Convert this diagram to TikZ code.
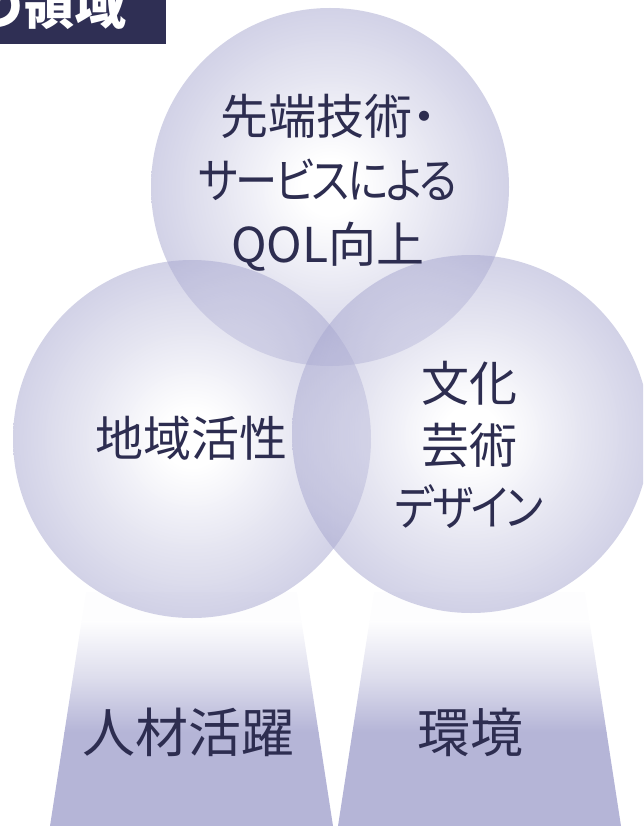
\documentclass[tikz,border=0pt]{standalone}
\usepackage{fontspec}
\setmainfont{Noto Sans CJK JP}[RawFeature=+palt]
\newfontfamily\kanafont{Noto Sans CJK JP}[RawFeature=+palt, FakeStretch=0.88, LetterSpace=-4.5]
\definecolor{ink}{RGB}{45,45,80}
\definecolor{hdr}{RGB}{47,47,84}
\definecolor{lavC}{RGB}{168,168,208}
\definecolor{lavT}{RGB}{181,181,215}
\pgfdeclareradialshading{ballshade}{\pgfpoint{0bp}{0bp}}{%
  color(0bp)=(white); color(4bp)=(white); color(14bp)=(lavC!50!white); color(25bp)=(lavC); color(50bp)=(lavC)}
\tikzset{
  ball/.style={shading=ballshade, fill opacity=0.52},
  lbl/.style={text=ink, align=center, inner sep=0pt, font=\fontsize{48}{64}\selectfont},
  biglbl/.style={text=ink, inner sep=0pt, font=\fontsize{53}{60}\selectfont},
}
\begin{document}
\begin{tikzpicture}[x=1pt,y=-1pt]
\useasboundingbox (0,0) rectangle (643,826);
\clip (0,0) rectangle (643,826);
% trapezoids
\foreach \dx/\nm in {0/L,288/R}{
  \begin{scope}
    \clip (86+\dx,592) -- (297+\dx,592) -- (333+\dx,826) -- (50+\dx,826) -- cycle;
    \fill[white!98!lavC] (40+\dx,590) rectangle (345+\dx,622);
    \shade[top color=white!98!lavC, bottom color=lavT, middle color=lavT!45!white] (40+\dx,621.5) rectangle (345+\dx,732);
    \fill[lavT] (40+\dx,731.5) rectangle (345+\dx,830);
  \end{scope}
}
% circles
\shade[ball] (330,187) circle[radius=179];
\shade[ball] (192,439) circle[radius=179];
\shade[ball] (471,434) circle[radius=179];
% header
\fill[hdr] (-10,-10) rectangle (166,44);
\node[anchor=base east, inner sep=0pt, text=white, font=\fontsize{52}{60}\selectfont\bfseries] (hd) at (127,25) {の領域};
% labels
\node[lbl] (top) at (328,183) {先端技術・\\{\kanafont サービスによる}\\QOL向上};
\node[lbl] (left) at (191,438) {地域活性};
\node[lbl, font=\fontsize{48}{62}\selectfont] (right) at (469,445) {文化\\芸術\\{\kanafont デザイン}};
\node[biglbl] (jinzai) at (188,732) {人材活躍};
\node[biglbl] (kankyo) at (470,732) {環境};
\end{tikzpicture}
\end{document}
